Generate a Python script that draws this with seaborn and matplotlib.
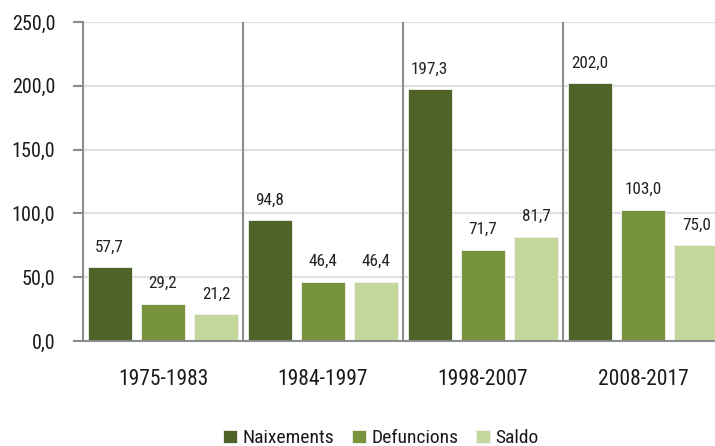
import numpy as np
import pandas as pd
import matplotlib
matplotlib.use("Agg")
import matplotlib.pyplot as plt
from matplotlib import font_manager
import seaborn as sns

periods = ["1975-1983", "1984-1997", "1998-2007", "2008-2017"]
series = ["Naixements", "Defuncions", "Saldo"]
naixements = [57.7, 94.8, 197.3, 202.0]
defuncions = [29.2, 46.4, 71.7, 103.0]
saldo = [21.2, 46.4, 81.7, 75.0]
y_ticks = [0, 50, 100, 150, 200, 250]

colors = ["#4F6228", "#77933C", "#C3D69B"]


def fmt(v):
    return f"{v:.1f}".replace(".", ",")


def pick_font():
    names = {f.name for f in font_manager.fontManager.ttflist}
    for name in ["Liberation Sans Narrow", "Roboto Condensed", "Liberation Sans"]:
        if name in names:
            return name
    return "DejaVu Sans"


def main():
    df = pd.DataFrame({
        "period": periods * 3,
        "serie": [s for s in series for _ in periods],
        "value": naixements + defuncions + saldo,
    })

    sns.set_style("white")
    plt.rcParams["font.family"] = [pick_font(), "DejaVu Sans"]

    fig = plt.figure(figsize=(7.15, 4.46), dpi=100)
    ax = fig.add_axes([83 / 715, 105 / 446, 640 / 715, 319 / 446])

    # bars nearly fill each category slot, as in the original
    sns.barplot(data=df, x="period", y="value", hue="serie", order=periods,
                hue_order=series, palette=colors, saturation=1, width=1.0,
                gap=0.17, edgecolor="#F2F2F2", linewidth=0.6, ax=ax,
                legend=True)

    for cont in ax.containers:
        ax.bar_label(cont, labels=[fmt(v) for v in cont.datavalues],
                     padding=9, fontsize=12.3, color="#222222")

    ax.set_xlim(-0.5, 3.5)
    ax.set_ylim(0, 250)
    ax.set_yticks(y_ticks)
    ax.set_yticklabels([fmt(v) for v in y_ticks])
    ax.set_xlabel("")
    ax.set_ylabel("")

    ax.yaxis.grid(True, color="#E0E0E0", linewidth=1.5)
    ax.set_axisbelow(True)
    for b in np.arange(0.5, 3.5, 1.0):
        ax.axvline(b, color="#8C8C8C", linewidth=1.5, zorder=3)
    ax.set_xticks(np.arange(-0.5, 4.0, 1.0), minor=True)
    ax.tick_params(axis="x", which="major", length=0, pad=20, labelsize=15.5,
                   labelcolor="#1A1A1A")
    ax.tick_params(axis="x", which="minor", length=5, width=1.5,
                   color="#8C8C8C", direction="out")
    ax.tick_params(axis="y", length=7, width=1.5, color="#8C8C8C",
                   direction="out", labelsize=14.5, pad=13, left=True,
                   labelcolor="#1A1A1A")

    for side in ["top", "right"]:
        ax.spines[side].set_visible(False)
    for side in ["left", "bottom"]:
        ax.spines[side].set_color("#8C8C8C")
        ax.spines[side].set_linewidth(1.5)

    handles, labels = ax.get_legend_handles_labels()
    ax.legend(handles, labels, loc="lower center",
              bbox_to_anchor=(381 / 715, -0.02), bbox_transform=fig.transFigure,
              ncol=3, frameon=False, fontsize=14, handlelength=0.7,
              handleheight=0.7, handletextpad=0.3, columnspacing=0.9,
              borderaxespad=0.0, labelcolor="#1A1A1A")

    fig.savefig("out.png", dpi=100)
    plt.close(fig)


if __name__ == "__main__":
    main()
